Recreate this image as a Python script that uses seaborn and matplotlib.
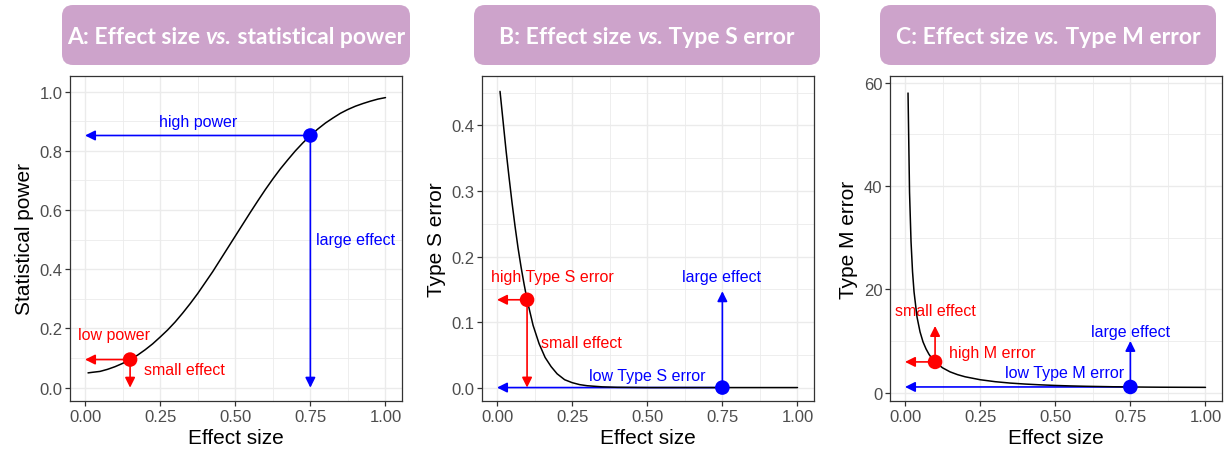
import matplotlib
matplotlib.use("Agg")
import matplotlib.pyplot as plt
from matplotlib.patches import FancyBboxPatch
from matplotlib.ticker import FixedLocator, FormatStrFormatter
import seaborn as sns
import pandas as pd

# ---- curve data -------------------------------------------------------
power_effect = [0.01, 0.025, 0.05, 0.075, 0.10, 0.125, 0.15, 0.175, 0.20, 0.225, 0.25,
                0.275, 0.30, 0.325, 0.35, 0.375, 0.40, 0.425, 0.45, 0.475, 0.50,
                0.525, 0.55, 0.575, 0.60, 0.625, 0.65, 0.675, 0.70, 0.725, 0.75,
                0.775, 0.80, 0.825, 0.85, 0.875, 0.90, 0.925, 0.95, 0.975, 1.00]
power_values = [0.050, 0.052, 0.055, 0.062, 0.071, 0.082, 0.095, 0.110, 0.128, 0.148, 0.171,
                0.195, 0.222, 0.252, 0.284, 0.318, 0.355, 0.392, 0.432, 0.472, 0.512,
                0.552, 0.592, 0.631, 0.669, 0.705, 0.739, 0.770, 0.800, 0.827, 0.852,
                0.874, 0.894, 0.911, 0.927, 0.940, 0.951, 0.960, 0.968, 0.975, 0.980]

s_effect = [0.01, 0.02, 0.03, 0.04, 0.05, 0.06, 0.07, 0.08, 0.09, 0.10, 0.12, 0.14,
            0.16, 0.18, 0.20, 0.225, 0.25, 0.275, 0.30, 0.35, 0.40, 0.50, 0.60,
            0.70, 0.80, 0.90, 1.00]
s_values = [0.452, 0.407, 0.362, 0.321, 0.282, 0.246, 0.213, 0.184, 0.158, 0.134, 0.095, 0.067,
            0.046, 0.032, 0.021, 0.012, 0.0075, 0.0045, 0.0028, 0.0011, 0.0004, 0.0, 0.0,
            0.0, 0.0, 0.0, 0.0]

m_effect = [0.01, 0.015, 0.02, 0.025, 0.03, 0.04, 0.05, 0.06, 0.07, 0.08, 0.09, 0.10,
            0.125, 0.15, 0.175, 0.20, 0.25, 0.30, 0.35, 0.40, 0.45, 0.50, 0.55, 0.60,
            0.65, 0.70, 0.75, 0.80, 0.85, 0.90, 0.95, 1.00]
m_values = [58.0, 38.8, 29.2, 23.4, 19.5, 14.6, 11.75, 9.8, 8.45, 7.39, 6.58, 5.94,
            4.79, 4.01, 3.47, 3.06, 2.49, 2.11, 1.84, 1.65, 1.50, 1.38, 1.29, 1.22,
            1.17, 1.12, 1.09, 1.06, 1.04, 1.03, 1.02, 1.01]

# highlighted designs: small and large effect
small_effect = 0.15
large_effect = 0.75
small_effect_sm = 0.10
power_points = [0.095, 0.852]
s_points = [0.134, 0.0]
m_points = [5.94, 1.09]

titles = [("A: Effect size ", "vs.", " statistical power"),
          ("B: Effect size ", "vs.", " Type S error"),
          ("C: Effect size ", "vs.", " Type M error")]
y_labels = ["Statistical power", "Type S error", "Type M error"]
x_ticks = [0.0, 0.25, 0.5, 0.75, 1.0]

RED = "#FF0000"
BLUE = "#0000FF"
BOX = "#CDA3CB"

sns.set_style("white")
plt.rcParams["font.family"] = ["Liberation Sans", "DejaVu Sans"]

W, H = 1226, 456
fig = plt.figure(figsize=(W / 100, H / 100), dpi=100)

# title banners drawn on a pixel-based overlay
overlay = fig.add_axes([0, 0, 1, 1], zorder=-1)
overlay.set_xlim(0, W)
overlay.set_ylim(H, 0)
overlay.axis("off")

boxes = [(62, 410), (474, 820), (880, 1216)]
renderer = fig.canvas.get_renderer()
for (x0, x1), parts in zip(boxes, titles):
    overlay.add_patch(FancyBboxPatch((x0, 6), x1 - x0, 60,
                                     boxstyle="round,pad=0,rounding_size=11",
                                     fc=BOX, ec="none"))
    texts = []
    for i, p in enumerate(parts):
        t = overlay.text(0, 37, p, fontsize=16.5, color="white", fontweight="bold",
                         fontstyle="italic" if i == 1 else "normal",
                         family=["Lato", "DejaVu Sans"], va="center", ha="left")
        texts.append(t)
    widths = [t.get_window_extent(renderer).width for t in texts]
    x = (x0 + x1) / 2 - sum(widths) / 2
    for t, w in zip(texts, widths):
        t.set_x(x)
        x += w

# panel axes positions (pixels)
panels = [(70, 402), (482, 814), (890, 1222)]
top, bottom = 77, 402
axes = []
for (l, r) in panels:
    ax = fig.add_axes([l / W, (H - bottom) / H, (r - l) / W, (bottom - top) / H])
    axes.append(ax)


def style_axis(ax, ylim, yticks, yfmt, ylabel, yminor):
    ax.set_xlim(-0.05, 1.055)
    ax.set_ylim(*ylim)
    ax.xaxis.set_major_locator(FixedLocator(x_ticks))
    ax.xaxis.set_major_formatter(FormatStrFormatter("%.2f"))
    ax.xaxis.set_minor_locator(FixedLocator([0.125, 0.375, 0.625, 0.875]))
    ax.yaxis.set_major_locator(FixedLocator(yticks))
    ax.yaxis.set_major_formatter(FormatStrFormatter(yfmt))
    ax.yaxis.set_minor_locator(FixedLocator(yminor))
    ax.grid(which="major", color="#EBEBEB", lw=1.0)
    ax.grid(which="minor", color="#EBEBEB", lw=0.6)
    ax.set_axisbelow(True)
    for s in ax.spines.values():
        s.set_color("#333333")
        s.set_linewidth(0.9)
    ax.tick_params(which="major", length=3.5, width=0.9, color="#333333",
                   labelsize=12, labelcolor="#4D4D4D", pad=2,
                   bottom=True, left=True)
    ax.tick_params(which="minor", length=0)
    ax.set_xlabel("Effect size", fontsize=15, color="black", labelpad=3)
    ax.set_ylabel(ylabel, fontsize=15, color="black", labelpad=4)


def arrow(ax, start, end, color):
    ax.annotate("", xy=end, xytext=start,
                arrowprops=dict(arrowstyle="-|>,head_length=0.6,head_width=0.3",
                                color=color, lw=1.2, shrinkA=0, shrinkB=0,
                                mutation_scale=10), zorder=3)


def curve(ax, xs, ys):
    df = pd.DataFrame({"effect": xs, "value": ys})
    sns.lineplot(data=df, x="effect", y="value", ax=ax, color="black", lw=1.1,
                 zorder=4, estimator=None)


def points(ax, xs, ys, colors):
    df = pd.DataFrame({"effect": xs, "value": ys, "c": colors})
    sns.scatterplot(data=df, x="effect", y="value", hue="c",
                    palette={RED: RED, BLUE: BLUE}, s=110, linewidth=0,
                    ax=ax, zorder=5, legend=False)


ann_kw = dict(fontsize=11.5, ha="center", va="center")

# ---- A: power ---------------------------------------------------------
ax = axes[0]
curve(ax, power_effect, power_values)
arrow(ax, (large_effect, power_points[1]), (0.0, power_points[1]), BLUE)
arrow(ax, (large_effect, power_points[1]), (large_effect, 0.0), BLUE)
arrow(ax, (small_effect, power_points[0]), (0.0, power_points[0]), RED)
arrow(ax, (small_effect, power_points[0]), (small_effect, 0.0), RED)
points(ax, [small_effect, large_effect], power_points, [RED, BLUE])
ax.text(0.375, 0.90, "high power", color=BLUE, **ann_kw)
ax.text(0.77, 0.50, "large effect", color=BLUE, fontsize=11.5, ha="left", va="center")
ax.text(0.095, 0.18, "low power", color=RED, **ann_kw)
ax.text(0.33, 0.06, "small effect", color=RED, **ann_kw)
style_axis(ax, (-0.045, 1.053), [0, 0.2, 0.4, 0.6, 0.8, 1.0], "%.1f",
           y_labels[0], [0.1, 0.3, 0.5, 0.7, 0.9])

# ---- B: Type S error --------------------------------------------------
ax = axes[1]
arrow(ax, (small_effect_sm, s_points[0]), (0.0, s_points[0]), RED)
arrow(ax, (small_effect_sm, s_points[0]), (small_effect_sm, 0.0), RED)
arrow(ax, (large_effect, s_points[1]), (0.0, s_points[1]), BLUE)
arrow(ax, (large_effect, s_points[1]), (large_effect, 0.147), BLUE)
curve(ax, s_effect, s_values)
points(ax, [small_effect_sm, large_effect], s_points, [RED, BLUE])
ax.text(0.183, 0.169, "high Type S error", color=RED, **ann_kw)
ax.text(0.28, 0.069, "small effect", color=RED, **ann_kw)
ax.text(0.748, 0.169, "large effect", color=BLUE, **ann_kw)
ax.text(0.50, 0.019, "low Type S error", color=BLUE, **ann_kw)
style_axis(ax, (-0.0205, 0.4755), [0, 0.1, 0.2, 0.3, 0.4], "%.1f",
           y_labels[1], [0.05, 0.15, 0.25, 0.35, 0.45])

# ---- C: Type M error --------------------------------------------------
ax = axes[2]
arrow(ax, (small_effect_sm, m_points[0]), (0.0, m_points[0]), RED)
arrow(ax, (small_effect_sm, m_points[0]), (small_effect_sm, 12.9), RED)
arrow(ax, (large_effect, m_points[1]), (0.0, m_points[1]), BLUE)
arrow(ax, (large_effect, m_points[1]), (large_effect, 10.0), BLUE)
curve(ax, m_effect, m_values)
points(ax, [small_effect_sm, large_effect], m_points, [RED, BLUE])
ax.text(0.10, 15.8, "small effect", color=RED, **ann_kw)
ax.text(0.29, 7.8, "high M error", color=RED, **ann_kw)
ax.text(0.75, 11.8, "large effect", color=BLUE, **ann_kw)
ax.text(0.53, 3.9, "low Type M error", color=BLUE, **ann_kw)
style_axis(ax, (-1.63, 61.3), [0, 20, 40, 60], "%d",
           y_labels[2], [10, 30, 50])

fig.savefig("out.png", dpi=100)
